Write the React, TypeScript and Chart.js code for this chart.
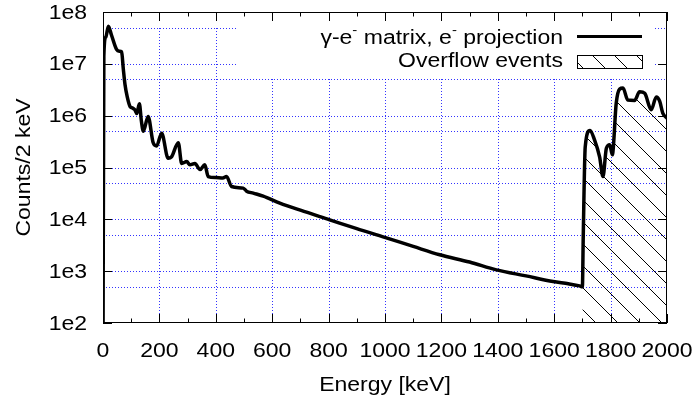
import React, { useEffect, useRef } from "react";
import { Chart, registerables } from "chart.js";

Chart.register(...registerables);

// ---- data ----
const energies = [
  0, 3, 10, 19, 30, 48, 58, 66, 72, 78, 86, 96, 105, 113, 120, 129, 136, 143, 160, 178, 190, 208,
  231, 243, 267, 279, 297, 308, 326, 344, 361, 373, 400, 425, 438, 456, 497, 509, 533, 568, 627,
  700, 804, 900, 999, 1100, 1194, 1300, 1395, 1500, 1596, 1650, 1690, 1700, 1703, 1710, 1727,
  1743, 1761, 1773, 1785, 1797, 1806, 1820, 1832, 1844, 1861, 1885, 1903, 1921, 1944, 1962, 1974,
  1985, 2000,
];
const counts = [
  20, 1.4e7, 3.3e7, 5.3e7, 3.6e7, 1.9e7, 1.75e7, 1.7e7, 8e6, 4.0e6, 2.3e6, 1.5e6, 1.4e6, 1.3e6,
  1.1e6, 1.7e6, 8e5, 5.0e5, 9.6e5, 3.0e5, 2.6e5, 4.6e5, 1.5e5, 1.6e5, 3.0e5, 1.2e5, 1.3e5, 1.13e5,
  1.2e5, 9.1e4, 1.13e5, 6.7e4, 6.4e4, 6.3e4, 6.7e4, 4.3e4, 4.0e4, 3.5e4, 3.2e4, 2.8e4, 2.06e4,
  1.5e4, 9.8e3, 6.6e3, 4.5e3, 3.0e3, 2.07e3, 1.5e3, 1.06e3, 8.1e2, 6.3e2, 5.7e2, 5.2e2, 5.0e2,
  4.7e3, 2.5e5, 5.2e5, 3.4e5, 1.6e5, 6.7e4, 2.35e5, 2.75e5, 1.76e5, 1.75e6, 3.25e6, 3.4e6, 2.0e6,
  1.97e6, 2.9e6, 2.7e6, 1.3e6, 2.3e6, 1.9e6, 1.12e6, 8.9e5,
];
const overflowStart = 1700;

const xMajorTicks = [0, 200, 400, 600, 800, 1000, 1200, 1400, 1600, 1800, 2000];
const xMinorTicks = [100, 300, 500, 700, 900, 1100, 1300, 1500, 1700, 1900];
const xGridValues = [200, 400, 600, 800, 1000, 1200, 1400, 1600, 1800];
const yMajorTicks = [1e2, 1e3, 1e4, 1e5, 1e6, 1e7, 1e8];
const yTickLabels = ["1e2", "1e3", "1e4", "1e5", "1e6", "1e7", "1e8"];
const yGridValues = [5e2, 1e3, 5e3, 1e4, 5e4, 1e5, 5e5, 1e6, 5e6, 1e7, 5e7];

const xTitle = "Energy [keV]";
const yTitle = "Counts/2 keV";
const overflowLabel = "Overflow events";
// legend 1 pieces: [text, superscript?]
const seriesLabelParts: [string, boolean][] = [
  ["γ-e", false],
  ["-", true],
  [" matrix, e", false],
  ["-", true],
  [" projection", false],
];
const seriesLabel = "γ-e⁻ matrix, e⁻ projection";

// ---- style ----
const W = 698;
const H = 408;
const FONT_FAMILY = '"Liberation Sans", Arial, sans-serif';
const FONT_SIZE = 20;
const SX = 1.15;
const GRID_COLOR = "rgba(0,0,255,0.8)";
const HATCH = 22;
const HATCH_OFFSET = 9;
const KEY_BOX = { x0: 237, x1: 653, y1: 77 };

function drawText(
  ctx: CanvasRenderingContext2D,
  text: string,
  x: number,
  y: number,
  align: CanvasTextAlign,
  size = FONT_SIZE,
  rotate = false
) {
  ctx.save();
  ctx.font = `${size}px ${FONT_FAMILY}`;
  ctx.translate(x, y);
  if (rotate) ctx.rotate(-Math.PI / 2);
  ctx.scale(SX, 1);
  ctx.textAlign = align;
  ctx.textBaseline = "middle";
  ctx.fillStyle = "#000";
  ctx.fillText(text, 0, 0);
  ctx.restore();
}

function makeHatch(ctx: CanvasRenderingContext2D): CanvasPattern | string {
  const tile = document.createElement("canvas");
  tile.width = HATCH;
  tile.height = HATCH;
  const t = tile.getContext("2d")!;
  t.strokeStyle = "#000";
  t.lineWidth = 1;
  t.beginPath();
  t.moveTo(-1, -1);
  t.lineTo(HATCH + 1, HATCH + 1);
  t.moveTo(HATCH - 1, -1);
  t.lineTo(HATCH + 1, 1);
  t.moveTo(-1, HATCH - 1);
  t.lineTo(1, HATCH + 1);
  t.stroke();
  const p = ctx.createPattern(tile, "repeat");
  if (!p) return "rgba(0,0,0,0.2)";
  try {
    p.setTransform(new DOMMatrix([1, 0, 0, 1, HATCH_OFFSET, 0]));
  } catch (e) {
    /* ignore */
  }
  return p;
}

export default function App() {
  const ref = useRef<HTMLCanvasElement>(null);

  useEffect(() => {
    const canvas = ref.current!;
    const ctx0 = canvas.getContext("2d")!;
    const hatch = makeHatch(ctx0);

    const mainData = energies.map((e, i) => ({ x: e, y: counts[i] }));
    const overflowData = mainData.filter((p) => p.x >= overflowStart);

    const gridPlugin = {
      id: "gnuplotGrid",
      beforeDatasetsDraw(chart: any) {
        const { ctx, chartArea } = chart;
        const { left, right, bottom } = chartArea;
        const xs = chart.scales.x;
        const ys = chart.scales.y;
        ctx.save();
        ctx.strokeStyle = GRID_COLOR;
        ctx.lineWidth = 1;
        ctx.setLineDash([1, 2]);
        for (const v of yGridValues) {
          const py = Math.round(ys.getPixelForValue(v)) + 0.5;
          ctx.beginPath();
          ctx.moveTo(left, py);
          ctx.lineTo(right, py);
          ctx.stroke();
        }
        const gridTop = ys.getPixelForValue(yGridValues[yGridValues.length - 1]);
        for (const v of xGridValues) {
          const px = Math.round(xs.getPixelForValue(v)) + 0.5;
          ctx.beginPath();
          ctx.moveTo(px, bottom);
          ctx.lineTo(px, gridTop);
          ctx.stroke();
        }
        ctx.setLineDash([]);
        ctx.fillStyle = "#fff";
        ctx.fillRect(KEY_BOX.x0, chartArea.top, KEY_BOX.x1 - KEY_BOX.x0, KEY_BOX.y1 - chartArea.top);
        ctx.restore();
      },
    };

    const decorPlugin = {
      id: "gnuplotDecor",
      afterDraw(chart: any) {
        const { ctx, chartArea } = chart;
        const { left, right, top, bottom } = chartArea;
        const xs = chart.scales.x;
        const ys = chart.scales.y;
        ctx.save();
        ctx.strokeStyle = "#000";
        ctx.lineWidth = 1;
        ctx.setLineDash([]);
        // frame
        ctx.strokeRect(left + 0.5, top + 0.5, right - left - 1, bottom - top - 1);
        // ticks
        const major = 9;
        const minor = 4.5;
        ctx.beginPath();
        for (const v of xMajorTicks) {
          const px = Math.round(xs.getPixelForValue(v)) + 0.5;
          ctx.moveTo(px, bottom);
          ctx.lineTo(px, bottom - major);
          ctx.moveTo(px, top);
          ctx.lineTo(px, top + major);
        }
        for (const v of xMinorTicks) {
          const px = Math.round(xs.getPixelForValue(v)) + 0.5;
          ctx.moveTo(px, bottom);
          ctx.lineTo(px, bottom - minor);
          ctx.moveTo(px, top);
          ctx.lineTo(px, top + minor);
        }
        for (const v of yMajorTicks) {
          const py = Math.round(ys.getPixelForValue(v)) + 0.5;
          ctx.moveTo(left, py);
          ctx.lineTo(left + major, py);
          ctx.moveTo(right, py);
          ctx.lineTo(right - major, py);
        }
        ctx.stroke();

        // tick labels
        for (const v of xMajorTicks) {
          drawText(ctx, String(v), xs.getPixelForValue(v), bottom + 28, "center");
        }
        yMajorTicks.forEach((v, i) => {
          drawText(ctx, yTickLabels[i], left - 16, ys.getPixelForValue(v) + 1, "right");
        });

        // axis titles
        drawText(ctx, xTitle, (left + right) / 2, bottom + 62, "center");
        drawText(ctx, yTitle, 24, (top + bottom) / 2, "center", FONT_SIZE, true);

        // legend
        const textRight = 563;
        const sampleX0 = 577;
        const sampleX1 = 642;
        const row1 = 38;
        const row2 = 61;
        // row 1 (with superscripts)
        const supSize = 13;
        let total = 0;
        const widths = seriesLabelParts.map(([t, sup]) => {
          ctx.font = `${sup ? supSize : FONT_SIZE}px ${FONT_FAMILY}`;
          const w = ctx.measureText(t).width * SX;
          total += w;
          return w;
        });
        let cx = textRight - total;
        seriesLabelParts.forEach(([t, sup], i) => {
          drawText(ctx, t, cx, sup ? row1 - 8 : row1, "left", sup ? supSize : FONT_SIZE);
          cx += widths[i];
        });
        ctx.strokeStyle = "#000";
        ctx.lineWidth = 3;
        ctx.beginPath();
        ctx.moveTo(sampleX0, row1 - 1.5);
        ctx.lineTo(sampleX1, row1 - 1.5);
        ctx.stroke();
        // row 2
        drawText(ctx, overflowLabel, textRight, row2, "right");
        ctx.fillStyle = hatch as any;
        ctx.fillRect(sampleX0, row2 - 6, sampleX1 - sampleX0, 13);
        ctx.lineWidth = 1;
        ctx.strokeRect(sampleX0 + 0.5, row2 - 6 + 0.5, sampleX1 - sampleX0, 13);
        ctx.restore();
      },
    };

    const chart = new Chart(canvas, {
      type: "line",
      data: {
        datasets: [
          {
            label: seriesLabel,
            data: mainData,
            borderColor: "#000",
            borderWidth: 3.5,
            pointRadius: 0,
            fill: false,
            cubicInterpolationMode: "monotone",
          },
          {
            label: overflowLabel,
            data: overflowData,
            borderColor: "rgba(0,0,0,0)",
            borderWidth: 0,
            backgroundColor: hatch as any,
            fill: "start",
            pointRadius: 0,
            cubicInterpolationMode: "monotone",
          },
        ],
      },
      options: {
        responsive: false,
        animation: false,
        events: [],
        layout: { padding: { left: 103, right: 31, top: 12, bottom: 85 } },
        scales: {
          x: { type: "linear", min: 0, max: 2000, display: false },
          y: { type: "logarithmic", min: 100, max: 1e8, display: false },
        },
        plugins: { legend: { display: false }, tooltip: { enabled: false } },
      },
      plugins: [gridPlugin, decorPlugin],
    } as any);

    return () => chart.destroy();
  }, []);

  return (
    <div style={{ position: "fixed", left: 0, top: 0, width: W, height: H, background: "#fff" }}>
      <canvas ref={ref} width={W} height={H} style={{ display: "block", width: W, height: H }} />
    </div>
  );
}
